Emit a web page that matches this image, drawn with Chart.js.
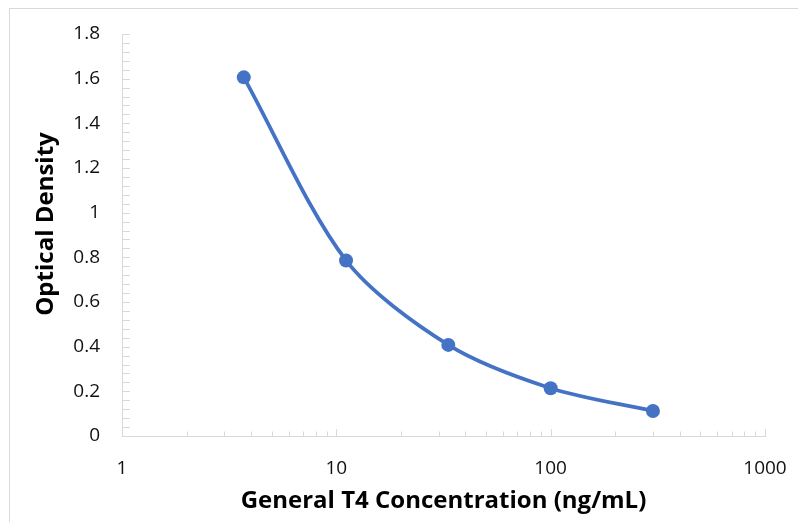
<!DOCTYPE html>
<html><head><meta charset="utf-8">
<script src="https://cdn.jsdelivr.net/npm/chart.js@4.4.1/dist/chart.umd.min.js"></script>
<style>html,body{margin:0;padding:0;background:#fff}#wrap{width:798px;height:522px;position:relative}</style>
</head><body><div id="wrap"><canvas id="c" width="798" height="522"></canvas></div>
<script>
const concentrations = [3.7, 11.1, 33.3, 100, 300];
const opticalDensity = [1.606, 0.786, 0.408, 0.214, 0.112];
const xTickLabels = [1, 10, 100, 1000];
const yTickLabels = [0, 0.2, 0.4, 0.6, 0.8, 1, 1.2, 1.4, 1.6, 1.8];
const xTitle = 'General T4 Concentration (ng/mL)';
const yTitle = 'Optical Density';

const AXIS_COLOR = '#d9d9d9';
const TICK_FONT = {family: '"Open Sans"', size: 19};
const TITLE_FONT = {family: '"Open Sans"', size: 24, weight: 'bold'};

const decorPlugin = {
  id: 'decor',
  beforeDraw(chart) {
    const ctx = chart.ctx;
    ctx.save();
    ctx.strokeStyle = AXIS_COLOR;
    ctx.lineWidth = 1;
    ctx.strokeRect(9.5, 8.5, 900, 600);
    ctx.restore();
  },
  afterDraw(chart) {
    const ctx = chart.ctx;
    const xs = chart.scales.x, ys = chart.scales.y;
    const area = chart.chartArea;
    ctx.save();
    ctx.strokeStyle = AXIS_COLOR;
    ctx.lineWidth = 1;
    ctx.beginPath();
    const xmin = xTickLabels[0], xmax = xTickLabels[xTickLabels.length - 1];
    for (let d = xmin; d <= xmax; d *= 10) {
      for (let m = 1; m <= 9; m++) {
        const v = m * d;
        if (v > xmax) break;
        const px = Math.round(xs.getPixelForValue(v)) + 0.5;
        const len = m === 1 ? 7 : 4.5;
        ctx.moveTo(px, area.bottom);
        ctx.lineTo(px, area.bottom - len);
      }
    }
    for (let i = 0; i < yTickLabels.length; i++) {
      const a = yTickLabels[i];
      const b = i + 1 < yTickLabels.length ? yTickLabels[i + 1] : null;
      const sub = b === null ? 1 : 5;
      for (let k = 0; k < sub; k++) {
        const v = a + (b === null ? 0 : (b - a) * k / 5);
        const py = Math.round(ys.getPixelForValue(v)) + 0.5;
        ctx.moveTo(area.left, py);
        ctx.lineTo(area.left + 8, py);
      }
    }
    ctx.stroke();
    ctx.fillStyle = '#000';
    ctx.font = 'bold ' + TITLE_FONT.size + 'px ' + TITLE_FONT.family;
    ctx.textAlign = 'center';
    ctx.textBaseline = 'middle';
    ctx.translate(area.left - 76, (area.top + area.bottom) / 2 - 11);
    ctx.rotate(-Math.PI / 2);
    ctx.fillText(yTitle, 0, 0);
    ctx.restore();
  }
};

new Chart(document.getElementById('c'), {
  type: 'scatter',
  data: {
    datasets: [{
      data: concentrations.map((c, i) => ({x: c, y: opticalDensity[i]})),
      showLine: true,
      tension: 0.3,
      borderColor: '#4472C4',
      borderWidth: 3.75,
      pointRadius: 7,
      pointBackgroundColor: '#4472C4',
      pointBorderWidth: 0,
      clip: false
    }]
  },
  options: {
    responsive: false,
    animation: false,
    devicePixelRatio: 1,
    layout: {padding: {left: 10, top: 34, right: 33, bottom: 6}},
    plugins: {legend: {display: false}, tooltip: {enabled: false}},
    scales: {
      x: {
        type: 'logarithmic',
        min: 1, max: 1000,
        afterBuildTicks: s => { s.ticks = xTickLabels.map(v => ({value: v})); },
        afterFit: s => { s.height = 80; s.paddingLeft = 0; s.paddingRight = 0; },
        grid: {display: false, drawTicks: false},
        border: {display: true, color: AXIS_COLOR, width: 1},
        ticks: {
          autoSkip: false, maxRotation: 0, padding: 21,
          color: '#111', font: TICK_FONT,
          callback: v => String(v)
        },
        title: {display: true, text: xTitle, color: '#000', font: TITLE_FONT, padding: {top: 0, bottom: 0}}
      },
      y: {
        min: 0, max: 1.8,
        afterBuildTicks: s => { s.ticks = yTickLabels.map(v => ({value: v})); },
        afterFit: s => { s.width = 112; s.paddingTop = 0; s.paddingBottom = 0; },
        grid: {display: false, drawTicks: false},
        border: {display: true, color: AXIS_COLOR, width: 1},
        ticks: {
          padding: 22, color: '#111', font: TICK_FONT,
          callback: v => String(+Number(v).toFixed(2))
        }
      }
    }
  },
  plugins: [decorPlugin]
});
</script>
</body></html>
